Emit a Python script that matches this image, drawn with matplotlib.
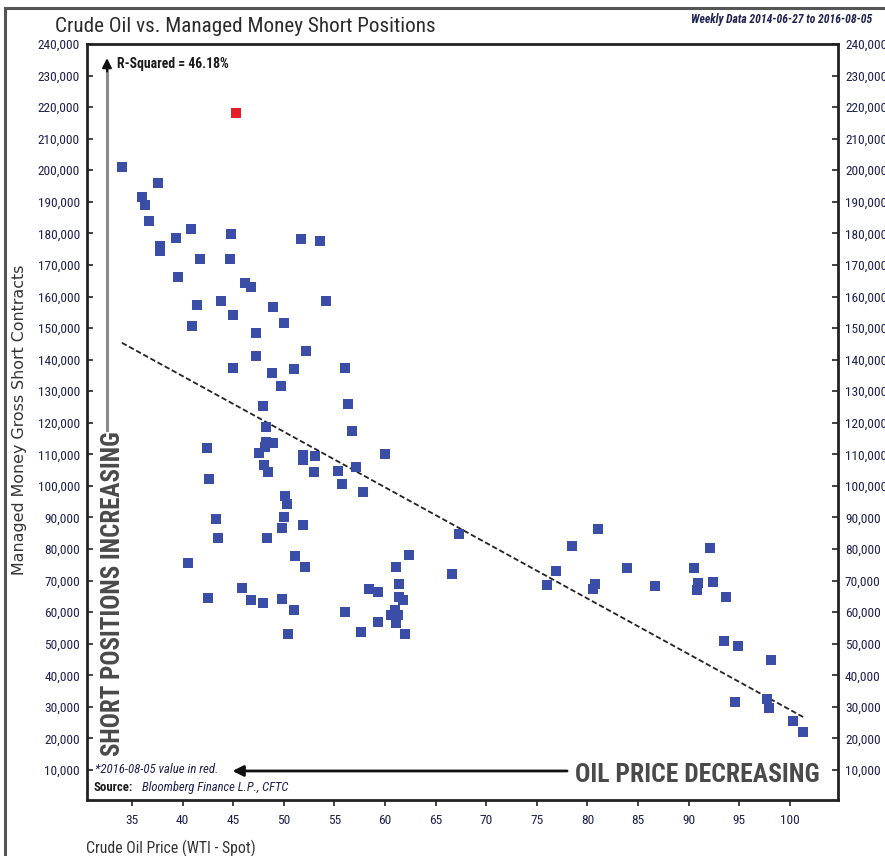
import os
import numpy as np
import matplotlib.pyplot as plt
from matplotlib import font_manager
from matplotlib.font_manager import FontProperties
from matplotlib.ticker import FuncFormatter
from matplotlib.lines import Line2D

# ---- data ----
# WTI spot price ($) vs managed money gross short contracts (thousands)
oil_price = [
    34.0, 37.6, 36.0, 36.3, 36.7, 40.8, 39.3, 44.8, 51.7, 53.6,
    37.8, 37.8, 41.7, 44.7, 39.5, 46.2, 46.75, 41.4, 43.8, 48.9,
    54.2, 45.0, 40.9, 50.05, 47.25, 47.25, 52.2, 45.0, 48.8, 51.0,
    56.0, 49.7, 47.9, 56.3, 56.75, 48.2, 42.45, 48.2, 48.9, 48.1,
    47.5, 51.9, 51.9, 53.1, 59.95, 57.1, 48.0, 48.4, 52.95, 55.3,
    55.7, 57.8, 42.6, 50.15, 50.3, 50.05, 49.8, 51.9, 43.3, 43.5,
    48.3, 51.1, 52.1, 40.5, 61.1, 62.4, 66.6, 45.9, 46.75, 47.9,
    42.55, 49.8, 51.0, 50.45, 56.0, 58.4, 59.3, 57.6, 59.3, 61.4,
    61.4, 61.75, 61.0, 60.6, 61.3, 61.1, 62.0, 67.3, 75.95, 76.9,
    78.5, 81.0, 80.5, 80.7, 83.9, 86.7, 90.5, 90.8, 90.9, 92.1,
    92.4, 93.7, 93.5, 94.9, 94.6, 98.1, 97.7, 97.95, 100.3, 101.3,
]
short_k = [
    200.9, 195.9, 191.6, 189.0, 183.9, 181.3, 178.5, 179.7, 178.1, 177.7,
    176.0, 174.5, 171.8, 171.8, 166.3, 164.2, 162.9, 157.3, 158.6, 156.8,
    158.6, 154.2, 150.8, 151.5, 148.6, 141.3, 142.7, 137.5, 135.7, 137.0,
    137.5, 131.7, 125.4, 126.0, 117.5, 118.8, 112.1, 114.0, 113.5, 112.4,
    110.5, 109.8, 108.2, 109.5, 110.0, 105.9, 106.6, 104.5, 104.5, 104.8,
    100.6, 98.0, 102.1, 96.8, 94.3, 90.1, 86.8, 87.6, 89.5, 83.6,
    83.6, 77.8, 74.2, 75.7, 74.4, 78.0, 72.0, 67.6, 63.9, 62.8,
    64.4, 64.1, 60.7, 53.1, 60.2, 67.3, 66.3, 53.8, 57.0, 68.9,
    64.8, 63.9, 60.7, 59.1, 59.1, 56.5, 53.1, 84.8, 68.6, 73.1,
    81.0, 86.4, 67.3, 68.8, 73.9, 68.3, 73.9, 67.0, 69.1, 80.2,
    69.7, 64.9, 50.9, 49.4, 31.5, 44.9, 32.5, 29.6, 25.6, 22.0,
]
# latest week (2016-08-05), drawn in red
latest_price = [45.3]
latest_short_k = [218.0]

y_ticks = list(range(10000, 240001, 10000))
x_ticks = list(range(35, 101, 5))


# ---- fonts: look for a condensed / narrow face, else plain Liberation Sans ----
def pick_font(bold=False, italic=False):
    prefs = ['liberationsansnarrow', 'robotocondensed', 'opensanscondensed',
             'opensans_condensed', 'notosans-condensed', 'notosanscondensed',
             'dejavusanscondensed', 'condensed', 'narrow']
    found = []
    for f in font_manager.fontManager.ttflist:
        n = os.path.basename(f.fname).lower()
        if not ('condensed' in n or 'narrow' in n):
            continue
        if any(k in n for k in ('extra', 'semi', 'ultra', 'light', 'medium',
                                'black', 'thin', 'mono', 'serif')):
            continue
        if ('bold' in n) != bold:
            continue
        if (('italic' in n) or ('oblique' in n)) != italic:
            continue
        rank = next(i for i, p in enumerate(prefs) if p in n.replace(' ', ''))
        found.append((rank, f.fname))
    if found:
        found.sort()
        return FontProperties(fname=found[0][1])
    return FontProperties(family='Liberation Sans', weight='bold' if bold else 'normal',
                          style='italic' if italic else 'normal')


fp_reg = pick_font()
fp_bold = pick_font(bold=True)
fp_ital = pick_font(italic=True)
fp_boldital = pick_font(bold=True, italic=True)

ink = '#1d2150'

fig = plt.figure(figsize=(8.85, 8.56), dpi=100)
ax = fig.add_axes([87 / 885, 56 / 856, 751 / 885, 756 / 856])
renderer = fig.canvas.get_renderer()


def fit(t, target_px, vertical=False):
    # scale the font so the text spans the width it has in the reference
    bb = t.get_window_extent(renderer=renderer)
    cur = bb.height if vertical else bb.width
    t.set_fontsize(t.get_fontsize() * target_px / cur)
    return t


x = np.array(oil_price)
y = np.array(short_k) * 1000

ax.scatter(x, y, marker='s', s=52, color='#3a4ea8', linewidths=0, zorder=3)
ax.scatter(latest_price, np.array(latest_short_k) * 1000, marker='s', s=52,
           color='#e41e26', linewidths=0, zorder=3)

# least squares trend over the blue points
slope, icpt = np.polyfit(x, y, 1)
xs = np.array([x.min(), x.max()])
ax.plot(xs, slope * xs + icpt, color='#222222', lw=1.3, ls=(0, (3, 1.5)), zorder=2)

ax.set_xlim(30.55, 104.75)
ax.set_ylim(500, 240000)
ax.set_xticks(x_ticks)
ax.set_yticks(y_ticks)
ax.yaxis.set_major_formatter(FuncFormatter(lambda v, p: f'{v:,.0f}'))

for sp in ax.spines.values():
    sp.set_linewidth(2)
    sp.set_color('#222222')

ax.tick_params(axis='y', left=True, right=True, labelleft=True, labelright=True,
               direction='in', length=4, width=1.2, pad=5,
               labelcolor=ink, color='#222222')
ax.tick_params(axis='x', direction='out', length=4, width=1.2, pad=6,
               labelcolor=ink, color='#222222')

# tick label font sized so "240,000" is about 42 px wide
probe = fig.text(0, 0, '240,000', fontproperties=fp_reg.copy())
probe.set_fontsize(10)
fit(probe, 42)
tick_size = probe.get_fontsize()
probe.remove()
tick_fp = fp_reg.copy()
tick_fp.set_size(tick_size)
for tk in ax.yaxis.get_major_ticks() + ax.xaxis.get_major_ticks():
    tk.label1.set_fontproperties(tick_fp)
    tk.label2.set_fontproperties(tick_fp)

# ---- annotations ----
fit(ax.text(0.040, 0.974, 'R-Squared = 46.18%', transform=ax.transAxes,
            fontproperties=fp_bold.copy(), color='#1a1a1a', va='center', ha='left'), 112)

# vertical arrow + label
ax.plot([0.0266, 0.0266], [0.489, 0.97], transform=ax.transAxes, color='#8a8a8a', lw=2.2)
ax.annotate('', xy=(0.0266, 0.985), xytext=(0.0266, 0.96), xycoords='axes fraction',
            arrowprops=dict(arrowstyle='-|>', color='#111111', lw=1.5, mutation_scale=14))
fit(ax.text(0.0346, 0.273, 'SHORT POSITIONS INCREASING', transform=ax.transAxes,
            rotation=90, fontproperties=fp_bold.copy(), color='#4a4a4a',
            ha='center', va='center'), 323, vertical=True)

# horizontal arrow + label
ax.annotate('', xy=(0.190, 0.0384), xytext=(0.643, 0.0384), xycoords='axes fraction',
            arrowprops=dict(arrowstyle='-|>', color='#111111', lw=2, mutation_scale=16))
fit(ax.text(0.650, 0.033, 'OIL PRICE DECREASING', transform=ax.transAxes,
            fontproperties=fp_bold.copy(), color='#4a4a4a', ha='left', va='center'), 243)

fit(ax.text(0.0107, 0.040, '*2016-08-05 value in red.', transform=ax.transAxes,
            fontproperties=fp_ital.copy(), color=ink, ha='left', va='center'), 124)
fit(ax.text(0.0093, 0.0159, 'Source:', transform=ax.transAxes,
            fontproperties=fp_bold.copy(), color='#1a1a1a', ha='left', va='center'), 39)
fit(ax.text(0.0733, 0.0159, 'Bloomberg Finance L.P., CFTC', transform=ax.transAxes,
            fontproperties=fp_ital.copy(), color=ink, ha='left', va='center'), 146)

# ---- titles and axis labels ----
fit(fig.text(55 / 885, 1 - 27 / 856, 'Crude Oil vs. Managed Money Short Positions',
             fontproperties=fp_reg.copy(), color='#2b2b2b', ha='left', va='center'), 378)
fit(fig.text(872 / 885, 1 - 20 / 856, 'Weekly Data 2014-06-27 to 2016-08-05',
             fontproperties=fp_boldital.copy(), color=ink, ha='right', va='center'), 180)
fit(fig.text(20 / 885, 1 - 420 / 856, 'Managed Money Gross Short Contracts', rotation=90,
             family='DejaVu Sans', fontsize=10, color='#333333',
             ha='center', va='center'), 310, vertical=True)
fit(fig.text(86 / 885, 1 - 848 / 856, 'Crude Oil Price (WTI - Spot)',
             fontproperties=fp_reg.copy(), color='#333333', ha='left', va='center'), 169)

# outer frame (left and top edges visible)
fig.add_artist(Line2D([5 / 885, 5 / 885], [0, 1 - 8 / 856], transform=fig.transFigure,
                      color='#555555', lw=2.2))
fig.add_artist(Line2D([5 / 885, 1], [1 - 8 / 856, 1 - 8 / 856], transform=fig.transFigure,
                      color='#555555', lw=2.2))

fig.savefig('out.png', dpi=100)
